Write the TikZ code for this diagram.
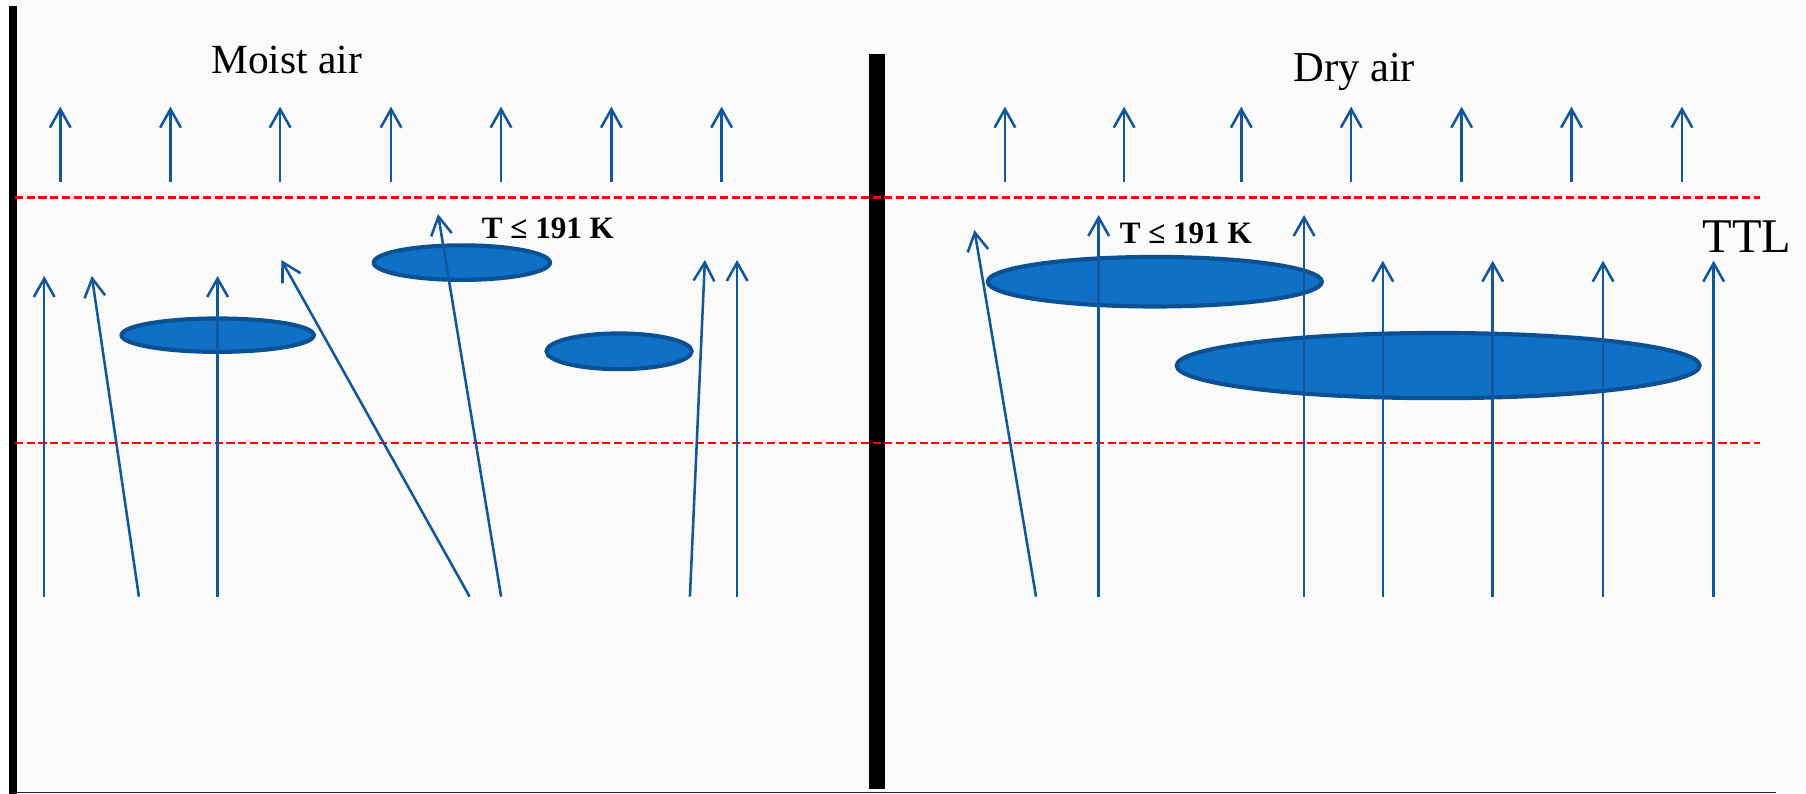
\documentclass[tikz,border=0pt]{standalone}
\usepackage{fontspec}
\setmainfont{Liberation Serif}
\usetikzlibrary{arrows.meta,shapes.geometric}
\definecolor{arrowblue}{RGB}{18,86,156}
\definecolor{cloudfill}{RGB}{16,112,198}
\definecolor{cloudedge}{RGB}{12,80,148}
\definecolor{ttlred}{RGB}{255,0,0}
\definecolor{bgtex}{RGB}{250,250,250}
\tikzset{
  upflow/.style={draw=arrowblue, line width=1.1pt, -{Straight Barb[length=8pt,width=9pt,line width=1.1pt]}},
  cloud/.style={ellipse, draw=cloudedge, fill=cloudfill, line width=1.8pt, inner sep=0pt},
  ttlline/.style={draw=ttlred, line width=0.9pt, dash pattern=on 3.5pt off 1.6pt},
  label/.style={inner sep=0pt, anchor=base west, text=black},
}
\begin{document}
\begin{tikzpicture}[x=0.5pt,y=-0.5pt]
\useasboundingbox (0,0) rectangle (1568,689);
\fill[bgtex] (12,0) rectangle (1568,688);
% frame
\coordinate (lbT) at (11.3,5); \coordinate (lbB) at (11.3,689);
\draw[line width=3.5pt, black] (lbT) -- (lbB);
\coordinate (mbT) at (761.7,47); \coordinate (mbB) at (761.7,685.3);
\draw[line width=6.8pt, black] (mbT) -- (mbB);
\coordinate (bl) at (10,688); \coordinate (br) at (1542,688);
\draw[line width=0.8pt, black!85] (bl) -- (br);
% red dashed TTL bounds
\coordinate (r1a) at (13,171.5); \coordinate (r1b) at (1528,171.5);
\coordinate (r2a) at (13,384.5); \coordinate (r2b) at (1528,384.5);
\draw[ttlline] (r1a) -- (r1b);
\draw[ttlline] (r2a) -- (r2b);
% labels
\node[label, font=\fontsize{18}{20}\selectfont] (moist) at (183,63.7) {Moist air};
\node[label, font=\fontsize{18.5}{20}\selectfont] (dry) at (1122.4,70.9) {Dry air};
\node[label, font=\fontsize{13.5}{15}\selectfont\bfseries] (tl) at (418,207) {T ≤ 191 K};
\node[label, font=\fontsize{13.5}{15}\selectfont\bfseries] (tr) at (971.8,211.3) {T ≤ 191 K};
\node[label, font=\fontsize{21}{23}\selectfont] (ttl) at (1478,219) {TTL};
% clouds
\node[cloud, minimum width=83.5pt, minimum height=14.5pt] (c1) at (189,291) {};
\node[cloud, minimum width=76.5pt, minimum height=15pt] (c2) at (401,228) {};
\node[cloud, minimum width=63pt, minimum height=15.5pt] (c3) at (537.5,305) {};
\node[cloud, minimum width=145pt, minimum height=21.5pt] (c4) at (1002.6,244.6) {};
\node[cloud, minimum width=227pt, minimum height=28.3pt] (c5) at (1248.6,317.4) {};
% top arrows
\foreach \i/\x in {1/52.3,2/148,3/243.2,4/339.5,5/435,6/530.8,7/626.5,8/872.5,9/976,10/1077.7,11/1173.1,12/1269,13/1364.4,14/1460.3}{
  \coordinate (ta\i) at (\x,158.3);
  \coordinate (tb\i) at (\x,92.6);
  \draw[upflow] (ta\i) -- (tb\i);
}
% lower arrows (start/end)
\foreach \i/\xa/\xb/\yb in {1/38.4/38.4/239.6, 2/120.6/79.7/239.6, 3/188.9/188.9/239.6, 4/407.7/244.2/225.7, 5/435.1/380.3/185.8, 6/599/612/225.7, 7/640/640/225.7,
  8/899.5/846/199.7, 9/953.9/953.9/186.7, 10/1132.2/1132.2/186.7, 11/1200.6/1200.6/226.3, 12/1296/1296/226.3, 13/1391.8/1391.8/226.3, 14/1487.8/1487.8/226.3}{
  \coordinate (la\i) at (\xa,518);
  \coordinate (lb\i) at (\xb,\yb);
  \draw[upflow] (la\i) -- (lb\i);
}
\end{tikzpicture}
\end{document}
